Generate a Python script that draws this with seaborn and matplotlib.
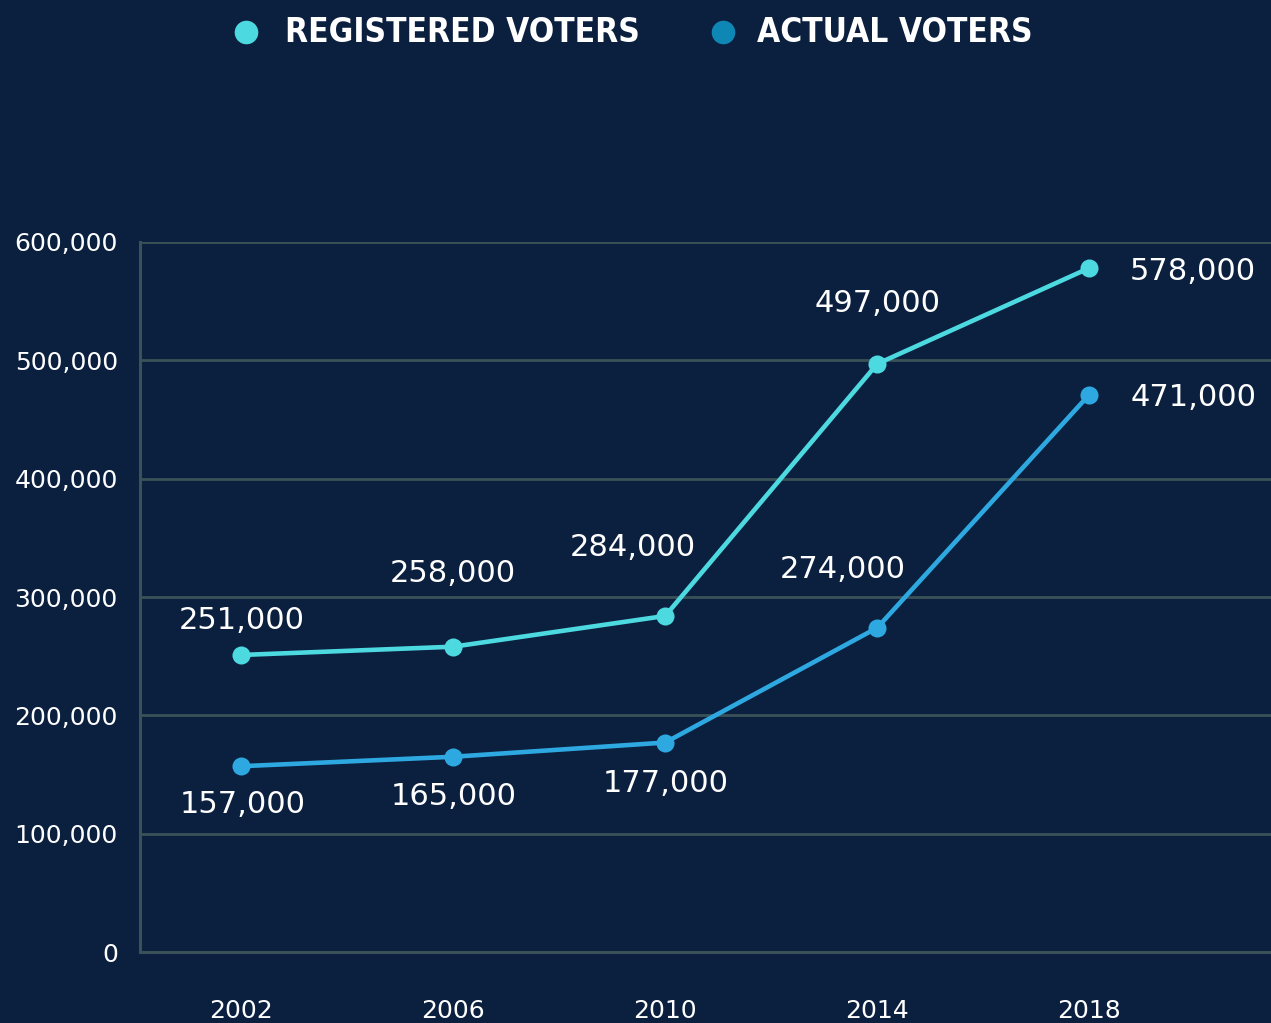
import matplotlib
matplotlib.use("Agg")
import matplotlib.pyplot as plt
from matplotlib.lines import Line2D
import pandas as pd
import seaborn as sns

years = [2002, 2006, 2010, 2014, 2018]
registered_voters = [251000, 258000, 284000, 497000, 578000]
actual_voters = [157000, 165000, 177000, 274000, 471000]
series_names = ["REGISTERED VOTERS", "ACTUAL VOTERS"]
y_ticks = [0, 100000, 200000, 300000, 400000, 500000, 600000]

BG = "#0b1f3f"
GRID = "#3a5257"
C_REG = "#4dd9e0"
C_ACT = "#2ea8e0"
C_ACT_KEY = "#0e87b5"

sns.set_theme(style="white")
plt.rcParams["font.family"] = ["DejaVu Sans"]

df = pd.DataFrame({
    "year": years * 2,
    "voters": registered_voters + actual_voters,
    "series": [series_names[0]] * len(years) + [series_names[1]] * len(years),
})

W, H = 1271, 1023
fig = plt.figure(figsize=(W / 100, H / 100), dpi=100, facecolor=BG)
ax = fig.add_axes([140 / W, 1 - 952 / H, 1 - 140 / W, (952 - 242) / H])
ax.set_facecolor(BG)

sns.lineplot(data=df, x="year", y="voters", hue="series",
             palette={series_names[0]: C_REG, series_names[1]: C_ACT},
             marker="o", markersize=13, markeredgewidth=0, linewidth=3.3,
             legend=False, ax=ax)

ax.set_xlim(2000.09, 2021.43)
ax.set_ylim(0, 600000)
ax.set_xticks(years)
ax.set_xticklabels([str(y) for y in years])
ax.set_yticks(y_ticks)
ax.set_yticklabels([f"{v:,}" for v in y_ticks])
ax.set_xlabel("")
ax.set_ylabel("")
ax.yaxis.grid(True, color=GRID, linewidth=2)
ax.set_axisbelow(True)
for side in ["top", "right"]:
    ax.spines[side].set_visible(False)
for side in ["left", "bottom"]:
    ax.spines[side].set_color(GRID)
    ax.spines[side].set_linewidth(2.2)
ax.tick_params(axis="both", length=0, colors="white", labelsize=18)
ax.tick_params(axis="y", pad=16)
ax.tick_params(axis="x", pad=34)

# value labels, offsets in pixels from each point
reg_offsets = [(1, 34), (0, 73), (-32, 68), (0, 60), (104, -3)]
act_offsets = [(1, -38), (0, -40), (0, -41), (-34, 58), (104, -3)]
for vals, offs in [(registered_voters, reg_offsets), (actual_voters, act_offsets)]:
    for x, v, (dx, dy) in zip(years, vals, offs):
        ax.annotate(f"{v:,}", (x, v), xytext=(dx, dy), textcoords="offset pixels",
                    ha="center", va="center", color="white", fontsize=22,
                    annotation_clip=False)

# legend keys and labels across the top
key_specs = [(246, C_REG, 285), (723, C_ACT_KEY, 757)]
for (kx, kc, tx), name in zip(key_specs, series_names):
    fig.add_artist(Line2D([kx / W], [1 - 32 / H], transform=fig.transFigure,
                          linestyle="none", marker="o", markersize=17,
                          markerfacecolor=kc, markeredgewidth=0))
    fig.text(tx / W, 1 - 33 / H, name, ha="left", va="center", color="white",
             fontsize=24, fontweight="bold", fontstretch="condensed",
             family=["DejaVu Sans"])

fig.savefig("out.png", dpi=100, facecolor=BG)
